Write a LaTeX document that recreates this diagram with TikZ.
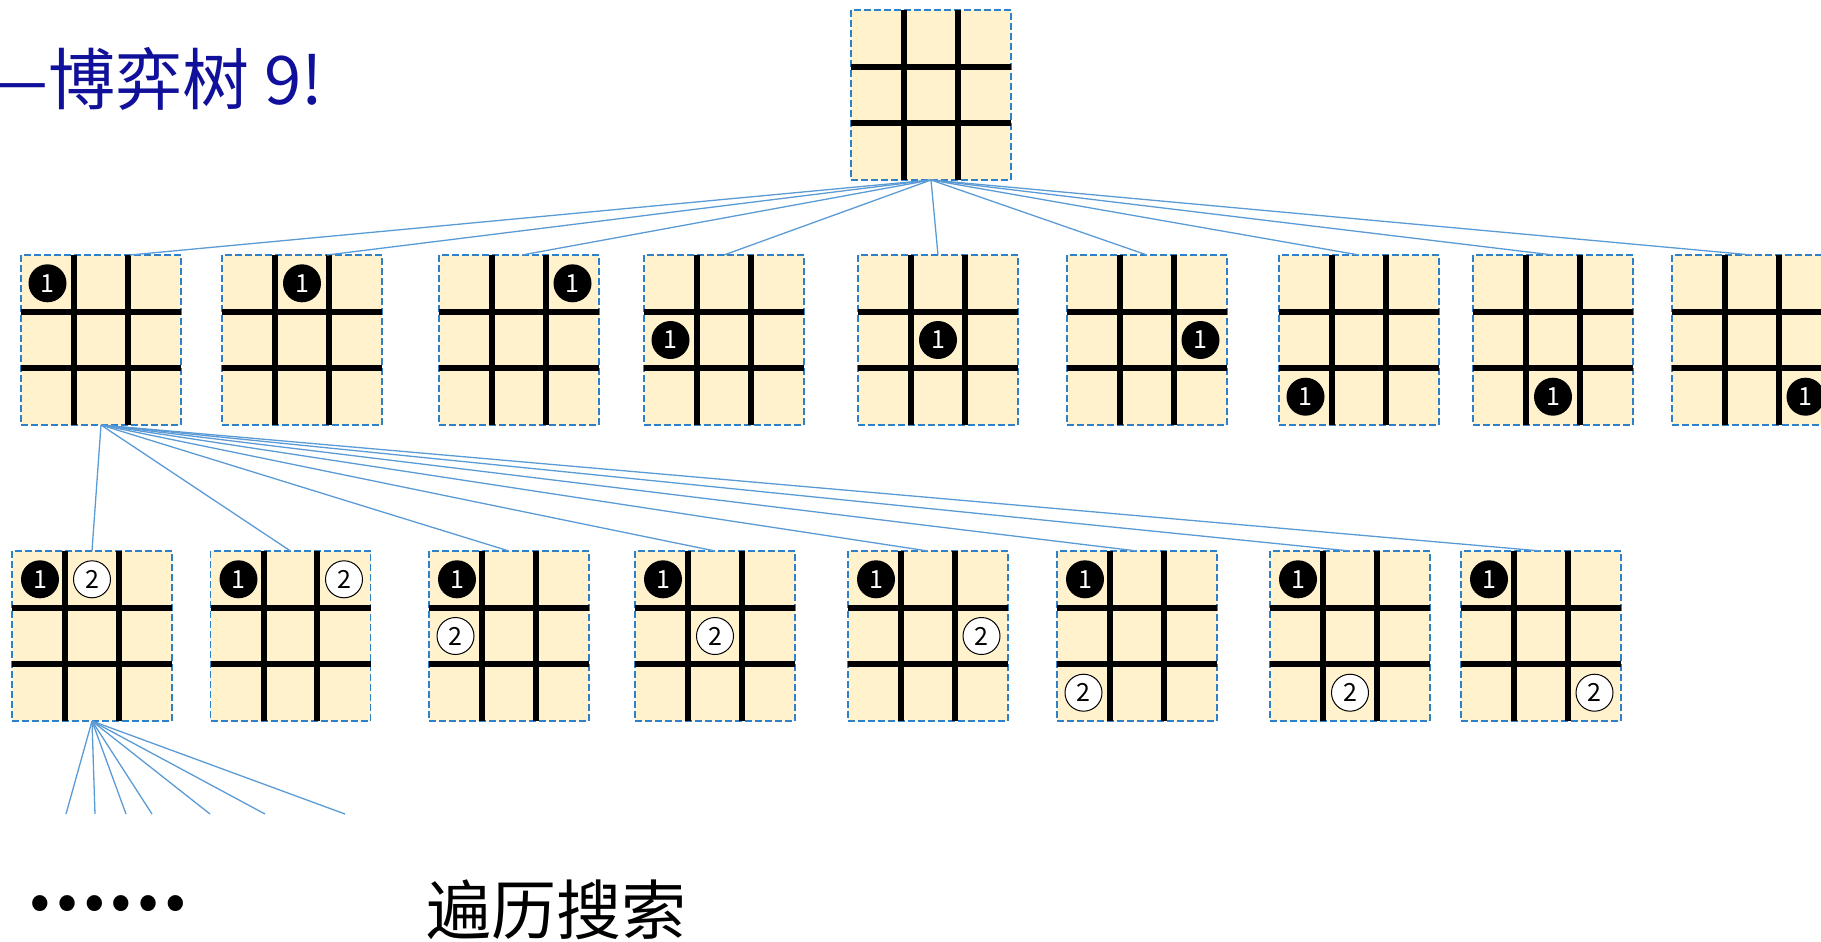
\documentclass[tikz,border=0pt]{standalone}
\usepackage{fontspec}
\newfontfamily\cjk{Noto Sans CJK SC}
\usepackage{tikz}
\usetikzlibrary{calc}
\definecolor{BoardFill}{HTML}{FFF2CC}
\definecolor{BoardLine}{HTML}{2E80C9}
\definecolor{TreeLine}{HTML}{5B9BD5}
\definecolor{TitleBlue}{HTML}{10109A}
\tikzset{
  board/.style={draw=BoardLine, fill=BoardFill, line width=1.5pt, dash pattern=on 7pt off 3pt,
    minimum width=160pt, minimum height=170pt, inner sep=0pt, outer sep=0pt},
  gridline/.style={line width=6pt, color=black},
  branch/.style={color=TreeLine, line width=1.3pt},
  black stone/.style={circle, fill=black, text=white, minimum size=38pt, inner sep=0pt,
    font=\cjk\fontsize{25}{25}\selectfont},
  white stone/.style={circle, draw=black, line width=1pt, fill=white, text=black, minimum size=37pt,
    inner sep=0pt, font=\cjk\fontsize{25}{25}\selectfont},
  big text/.style={anchor=base west, inner sep=0pt, font=\cjk\fontsize{65}{65}\selectfont},
}
% board node #1 at (#2,#3) with its grid
\newcommand{\board}[3]{%
  \node[board] (#1) at (#2,#3) {};
  \foreach \k in {-1,1}{
    \draw[gridline] ($(#1.north)+(\k*160/6,0)$) -- ($(#1.south)+(\k*160/6,0)$);
    \draw[gridline] ($(#1.west)+(0,\k*170/6)$) -- ($(#1.east)+(0,\k*170/6)$);
  }%
}
\begin{document}
\begin{tikzpicture}[x=1pt,y=-1pt]
    \useasboundingbox (0,0) rectangle (1821,942);

    \node[big text, text=TitleBlue, font=\cjk\fontsize{67}{67}\selectfont] (title) at (-12,104) {—博弈树 9!}; % ----- Titre

    \board{root}{931}{95} % ----- Racine

    \foreach \n/\x/\c/\r/\s in {1/101/1/1/29, 2/302/2/1/25, 3/519/3/1/3, 4/724/1/2/0, 5/938/2/2/0,
        6/1147/3/2/0, 7/1359/1/3/0, 8/1553/2/3/0, 9/1752/3/3/0}{% ----- Premier coup
        \board{a\n}{\x}{340}
        \node[black stone] (a\n p) at ($(a\n)+(\c*53.5-107,\r*56.7-113.4)$) {1};
        \draw[branch] (root.south) -- ([xshift=\s pt]a\n.north);
    }

    \foreach \n/\x/\c/\r in {1/92/2/1, 2/290.5/3/1, 3/509/1/2, 4/715/2/2, 5/928/3/2,
        6/1137/1/3, 7/1350/2/3, 8/1541/3/3}{% ----- Second coup
        \board{b\n}{\x}{636}
        \node[black stone] (b\n p) at ($(b\n)+(-52,-56.7)$) {1};
        \node[white stone] (b\n q) at ($(b\n)+(\c*53.5-107,\r*56.7-113.4)$) {2};
        \draw[branch] (a1.south) -- (b\n.north);
    }

    \foreach \x [count=\i] in {66,95,126,152,210,265,345}{% ----- Suite
        \coordinate (c\i) at (\x,814);
        \draw[branch] (b1.south) -- (c\i);
    }

    \node[big text, font=\cjk\bfseries\fontsize{72}{72}\selectfont] (dots) at (26,910) {……};
    \node[big text] (search) at (426,934) {遍历搜索};
\end{tikzpicture}
\end{document}
